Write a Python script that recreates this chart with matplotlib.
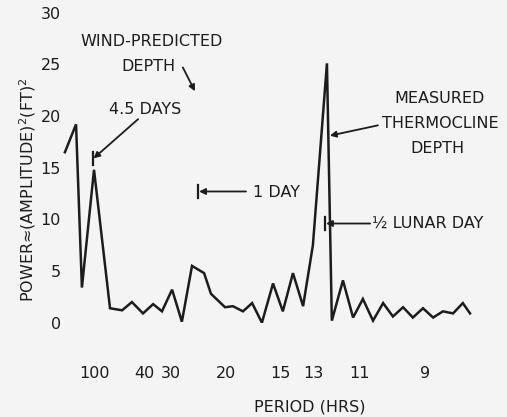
import matplotlib.pyplot as plt

plt.rcParams['mathtext.default'] = 'regular'

# frequency of each spectral estimate (cycles per hour) and its power
freq = [0.0008, 0.0042, 0.0060, 0.0097, 0.0146, 0.0183, 0.0213, 0.0247, 0.0278,
        0.0305, 0.0336, 0.0366, 0.0397, 0.0434, 0.0455, 0.0498, 0.0522, 0.0553,
        0.0581, 0.0611, 0.0645, 0.0675, 0.0706, 0.0737, 0.0767, 0.0810, 0.0825,
        0.0859, 0.0890, 0.0920, 0.0951, 0.0982, 0.1012, 0.1043, 0.1073, 0.1104,
        0.1135, 0.1165, 0.1196, 0.1226, 0.1248]
power = [16.5, 19.2, 3.4, 14.8, 1.4, 1.2, 2.0, 0.9, 1.8,
         1.1, 3.2, 0.1, 5.5, 4.8, 2.8, 1.5, 1.6, 1.1,
         1.9, 0.0, 3.8, 1.1, 4.8, 1.6, 7.5, 25.1, 0.2,
         4.1, 0.5, 2.3, 0.2, 1.9, 0.6, 1.5, 0.5, 1.4,
         0.5, 1.1, 0.9, 1.9, 0.9]

period_ticks = [100, 40, 30, 20, 15, 13, 11, 9]
y_ticks = [0, 5, 10, 15, 20, 25, 30]

# marked periods (hrs) and the height of their marker bars
mark_periods = [108, 24, 12.42]
mark_levels = [15.9, 12.7, 9.6]

ink = '#1c1c1c'
bg = '#f4f4f4'
fs = 11.5

fig = plt.figure(figsize=(5.07, 4.17), dpi=100, facecolor=bg)
ax = fig.add_axes([0.1229, 0.2261, 0.8377, 0.7434], facecolor=bg)

ax.plot(freq, power, color=ink, lw=1.8, solid_joinstyle='miter')

ax.set_xlim(0, 0.13)
ax.set_ylim(0, 30)
ax.set_xticks([1 / p for p in period_ticks])
ax.set_xticklabels([str(p) for p in period_ticks])
ax.set_yticks(y_ticks)
ax.tick_params(length=0, labelsize=fs, colors=ink)
ax.tick_params(axis='x', pad=31)
ax.tick_params(axis='y', pad=1)
for s in ax.spines.values():
    s.set_visible(False)

# marker bars
for p, lv in zip(mark_periods, mark_levels):
    ax.plot([1 / p, 1 / p], [lv - 0.65, lv + 0.65], color=ink, lw=1.6)

arrow = dict(arrowstyle='-|>', color=ink, lw=1.3, mutation_scale=9, shrinkA=0, shrinkB=0)

ax.text(0.0275, 27.2, 'WIND-PREDICTED', ha='center', va='center', fontsize=fs, color=ink)
ax.text(0.0265, 24.8, 'DEPTH', ha='center', va='center', fontsize=fs, color=ink)
ax.annotate('', xy=(0.0406, 22.4), xytext=(0.0369, 24.7), arrowprops=arrow)

ax.text(0.0253, 20.6, '4.5 DAYS', ha='center', va='center', fontsize=fs, color=ink)
ax.annotate('', xy=(1 / mark_periods[0] + 0.0003, mark_levels[0]), xytext=(0.0232, 19.7),
            arrowprops=arrow)

ax.text(0.0584, 12.6, '1 DAY', ha='left', va='center', fontsize=fs, color=ink)
ax.annotate('', xy=(1 / mark_periods[1] + 0.0002, mark_levels[1]), xytext=(0.0562, 12.7),
            arrowprops=arrow)

ax.text(0.0948, 9.6, '½ LUNAR DAY', ha='left', va='center', fontsize=fs, color=ink)
ax.annotate('', xy=(1 / mark_periods[2] + 0.0002, mark_levels[2]), xytext=(0.0942, 9.6),
            arrowprops=arrow)

ax.text(0.1156, 21.7, 'MEASURED', ha='center', va='center', fontsize=fs, color=ink)
ax.text(0.1156, 19.3, 'THERMOCLINE', ha='center', va='center', fontsize=fs, color=ink)
ax.text(0.1147, 16.9, 'DEPTH', ha='center', va='center', fontsize=fs, color=ink)
ax.annotate('', xy=(0.0819, 18.1), xytext=(0.0966, 19.1), arrowprops=arrow)

fig.text(310 / 507, 1 - 407 / 417, 'PERIOD (HRS)', ha='center', va='center',
         fontsize=fs, color=ink)
fig.text(28 / 507, 1 - 190 / 417, 'POWER≈(AMPLITUDE)$^2$(FT)$^2$', rotation=90,
         ha='center', va='center', fontsize=fs, color=ink)

fig.savefig('out.png', dpi=100, facecolor=bg)
